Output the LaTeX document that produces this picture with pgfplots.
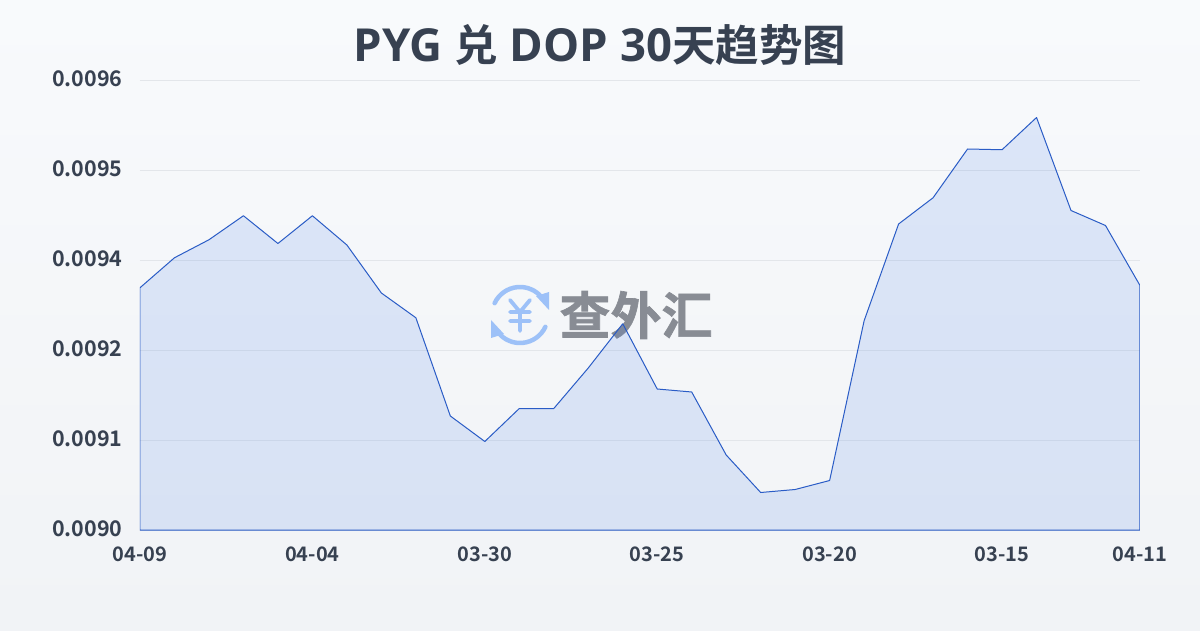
\documentclass[border=0pt]{standalone}
\usepackage{fontspec}
\setmainfont{DejaVu Sans}
\newfontfamily\osans{Open Sans}
\newfontfamily\cjk{Noto Sans CJK SC}[BoldFont={* Bold}]
\newfontfamily\cjkb{Noto Sans CJK SC Bold}[FakeBold=1.2]
\usepackage{pgfplots}
\pgfplotsset{compat=1.18}
\definecolor{txt}{HTML}{374151}
\definecolor{bgt}{HTML}{F8FAFC}
\definecolor{bgb}{HTML}{F1F3F6}
\definecolor{ln}{HTML}{2A5CC6}
\definecolor{ar}{HTML}{3B76E6}
\definecolor{gr}{HTML}{E3E6EA}
\definecolor{wmt}{HTML}{888C94}
\definecolor{wmi}{HTML}{9DC1F8}
\newcommand{\tl}[1]{{\osans\bfseries\fontsize{45.5}{50}\selectfont #1}}
\newcommand{\tc}[1]{{\cjk\bfseries\fontsize{43.5}{50}\selectfont #1}}
\begin{document}
\begin{tikzpicture}[x=1pt,y=1pt]
\useasboundingbox (0,0) rectangle (1200,630);
\shade[top color=bgt,bottom color=bgb] (0,0) rectangle (1200,630);
\node[text=txt,anchor=center] at (600,585) {\tl{PYG\ }\tc{兑}\tl{\ DOP\ 30}\tc{天趋势图}};
% watermark
\node[font=\cjkb\fontsize{51}{54}\selectfont,text=wmt,anchor=center] at (636,315) {查外汇};
\begin{scope}[shift={(520,315)},line width=4.5pt,wmi,line cap=round]
\draw (155:28) arc (155:40:28);
\draw (-25:28) arc (-25:-140:28);
\fill (16,19) -- (29,5) -- (29,23) -- cycle;
\fill (-16,-19) -- (-29,-5) -- (-29,-23) -- cycle;
\draw[line width=3.8pt] (-10,15) -- (0,3) -- (10,15) (0,3) -- (0,-16) (-10,3) -- (10,3) (-10,-6) -- (10,-6);
\end{scope}
\coordinate (o) at (140,100);
\begin{axis}[
 at={(o)},anchor=south west,
 scale only axis,width=1000pt,height=450pt,
 xmin=0,xmax=29,ymin=0.0090,ymax=0.0096,
 axis line style={draw=none},
 xtick={0,5,10,15,20,25,29},
 xticklabels={04-09,04-04,03-30,03-25,03-20,03-15,04-11},
 ytick={0.0090,0.00912,0.00924,0.00936,0.00948,0.0096},
 yticklabels={0.0090,0.0091,0.0092,0.0094,0.0095,0.0096},
 scaled y ticks=false,
 ymajorgrids,grid style={gr,line width=0.8pt},
 tick style={draw=none},
 major tick length=0pt,
 xticklabel style={font=\cjk\bfseries\fontsize{20}{22}\selectfont,text=txt,yshift=-13pt},
 yticklabel style={font=\cjk\bfseries\fontsize{21.5}{24}\selectfont,text=txt,xshift=-14pt,yshift=1pt},
]
\addplot[draw=ln,line width=1pt,fill=ar,fill opacity=0.14,draw opacity=1,line join=round] coordinates {
(0,0.009323)(1,0.009363)(2,0.009387)(3,0.009419)(4,0.009382)(5,0.009419)
(6,0.009380)(7,0.009316)(8,0.009283)(9,0.009152)(10,0.009118)(11,0.009162)
(12,0.009162)(13,0.009216)(14,0.009275)(15,0.009188)(16,0.009184)(17,0.009100)
(18,0.009050)(19,0.009054)(20,0.009066)(21,0.009279)(22,0.009408)(23,0.009443)
(24,0.009508)(25,0.009507)(26,0.009550)(27,0.009426)(28,0.009406)(29,0.009326)
} \closedcycle;
\end{axis}
\end{tikzpicture}
\end{document}
